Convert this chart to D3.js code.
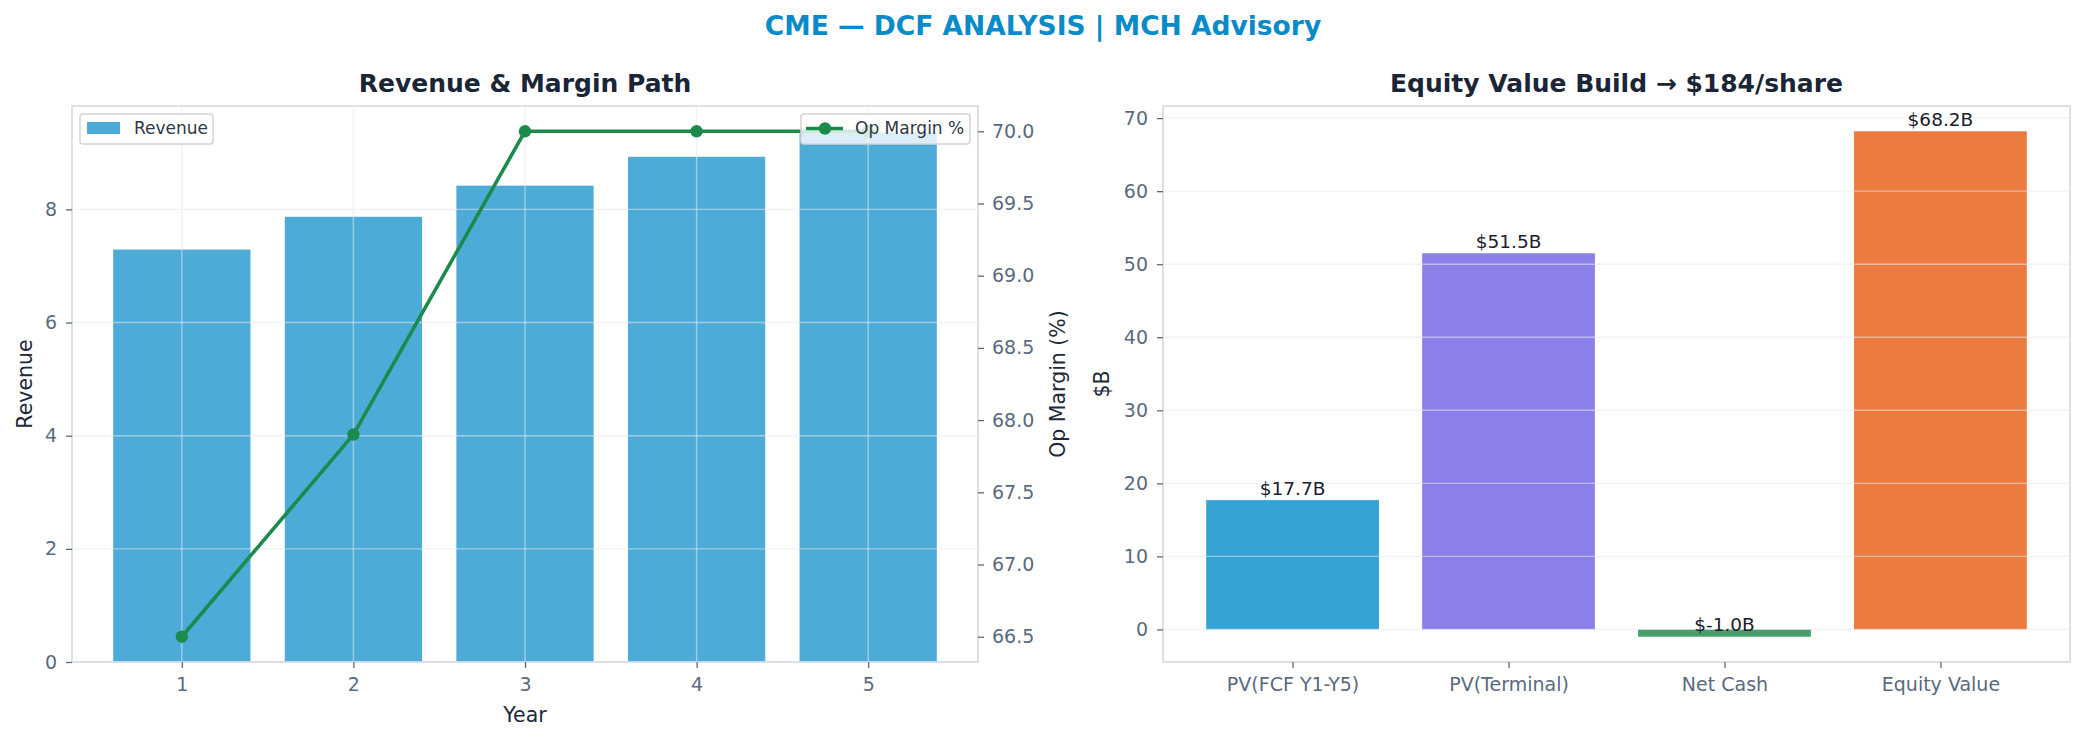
<!DOCTYPE html>
<html>
<head>
<meta charset="utf-8">
<script src="https://cdn.jsdelivr.net/npm/d3@7/dist/d3.min.js"></script>
<style>
    body { margin: 0; background: #ffffff; }
    svg { display: block; font-family: "DejaVu Sans", sans-serif; }
    .tick text { fill: #5a6a7e; font-size: 19px; font-family: "DejaVu Sans", sans-serif; }
    .tick line { stroke: #5a6a7e; }
    .spine { fill: none; stroke: #d5dbe3; stroke-width: 1.6; }
    .grid { stroke: #e6eaef; stroke-width: 1.4; opacity: 0.55; }
    .axis-label { fill: #1e2a3a; font-size: 20.5px; }
    .sub-title { fill: #1a2535; font-size: 25px; font-weight: bold; }
    .legend-box { fill: #ffffff; fill-opacity: 0.8; stroke: #d3d3d3; stroke-width: 1.5; }
    .legend-text { fill: #2d3748; font-size: 17px; }
    .bar-label { fill: #1a202c; font-size: 18.5px; }
</style>
</head>
<body>
<svg width="2084" height="742"></svg>
<script>
// Revenue & margin path
var years = [1, 2, 3, 4, 5];
var revenue = [7.29, 7.87, 8.42, 8.93, 9.36];
var opMargin = [66.5, 67.9, 70.0, 70.0, 70.0];
var revenueTicks = [0, 2, 4, 6, 8];
var marginTicks = [66.5, 67.0, 67.5, 68.0, 68.5, 69.0, 69.5, 70.0];

// Equity value build
var buildLabels = ["PV(FCF Y1-Y5)", "PV(Terminal)", "Net Cash", "Equity Value"];
var buildValues = [17.7, 51.5, -1.0, 68.2];
var buildColors = ["#35a3d3", "#8b80ea", "#489f6c", "#ec7b40"];
var buildTicks = [0, 10, 20, 30, 40, 50, 60, 70];

var svg = d3.select("svg");
var top0 = 106, bottom0 = 662;

// main title
svg.append("text")
    .attr("x", 1043).attr("y", 35)
    .attr("text-anchor", "middle")
    .style("font-size", "26.5px").style("font-weight", "bold").style("fill", "#088bc8")
    .text("CME \u2014 DCF ANALYSIS | MCH Advisory");

// helper: style an axis group
function styleAxis(g) {
    g.attr("font-family", null).attr("font-size", null);
    g.select(".domain").remove();
    g.selectAll(".tick line").attr("stroke", "#5a6a7e").attr("stroke-width", 1.3);
}

// ---------- Left chart ----------
var L = { left: 72, right: 978 };
var xL = d3.scaleLinear().domain([0.36, 5.64]).range([L.left, L.right]);
var yL = d3.scaleLinear().domain([0, 9.36 * 1.05]).range([bottom0, top0]);
var yM = d3.scaleLinear().domain([66.325, 70.175]).range([bottom0, top0]);
var barW = xL(0.8) - xL(0);

var gl = svg.append("g");

gl.selectAll(".rev-bar")
    .data(years)
    .enter().append("rect")
    .attr("x", function (d) { return xL(d) - barW / 2; })
    .attr("y", function (d, i) { return yL(revenue[i]); })
    .attr("width", barW)
    .attr("height", function (d, i) { return yL(0) - yL(revenue[i]); })
    .attr("fill", "#4dabd8");

// grid (above bars)
gl.selectAll(".gx").data(years).enter().append("line")
    .attr("class", "grid")
    .attr("x1", function (d) { return xL(d); }).attr("x2", function (d) { return xL(d); })
    .attr("y1", top0).attr("y2", bottom0);
gl.selectAll(".gy").data(revenueTicks).enter().append("line")
    .attr("class", "grid")
    .attr("x1", L.left).attr("x2", L.right)
    .attr("y1", function (d) { return yL(d); }).attr("y2", function (d) { return yL(d); });

gl.append("rect").attr("class", "spine")
    .attr("x", L.left).attr("y", top0)
    .attr("width", L.right - L.left).attr("height", bottom0 - top0);

gl.append("g").attr("transform", "translate(" + L.left + ",0)")
    .call(d3.axisLeft(yL).tickValues(revenueTicks).tickFormat(d3.format("d")).tickSize(6).tickPadding(9))
    .call(styleAxis);
gl.append("g").attr("transform", "translate(" + L.right + ",0)")
    .call(d3.axisRight(yM).tickValues(marginTicks).tickFormat(d3.format(".1f")).tickSize(6).tickPadding(8))
    .call(styleAxis);
gl.append("g").attr("transform", "translate(0," + bottom0 + ")")
    .call(d3.axisBottom(xL).tickValues(years).tickFormat(d3.format("d")).tickSize(6).tickPadding(10))
    .call(styleAxis);

// margin line
gl.append("path")
    .datum(years)
    .attr("fill", "none")
    .attr("stroke", "#1b8a4b")
    .attr("stroke-width", 3.6)
    .attr("d", d3.line()
        .x(function (d) { return xL(d); })
        .y(function (d, i) { return yM(opMargin[i]); }));
gl.selectAll(".dot").data(years).enter().append("circle")
    .attr("cx", function (d) { return xL(d); })
    .attr("cy", function (d, i) { return yM(opMargin[i]); })
    .attr("r", 6.2)
    .attr("fill", "#1b8a4b");

gl.append("text").attr("class", "sub-title")
    .attr("x", (L.left + L.right) / 2).attr("y", 92)
    .attr("text-anchor", "middle").text("Revenue & Margin Path");
gl.append("text").attr("class", "axis-label")
    .attr("x", (L.left + L.right) / 2).attr("y", 722)
    .attr("text-anchor", "middle").text("Year");
gl.append("text").attr("class", "axis-label")
    .attr("transform", "translate(32," + (top0 + bottom0) / 2 + ") rotate(-90)")
    .attr("text-anchor", "middle").text("Revenue");
gl.append("text").attr("class", "axis-label")
    .attr("transform", "translate(1065," + (top0 + bottom0) / 2 + ") rotate(-90)")
    .attr("text-anchor", "middle").text("Op Margin (%)");

// legends
gl.append("rect").attr("class", "legend-box")
    .attr("x", 80).attr("y", 114).attr("width", 133).attr("height", 30).attr("rx", 3);
gl.append("rect").attr("x", 87).attr("y", 122).attr("width", 33).attr("height", 12).attr("fill", "#4dabd8");
gl.append("text").attr("class", "legend-text").attr("x", 134).attr("y", 134).text("Revenue");

gl.append("rect").attr("class", "legend-box")
    .attr("x", 801).attr("y", 114).attr("width", 169).attr("height", 30).attr("rx", 3);
gl.append("line").attr("x1", 806).attr("x2", 843).attr("y1", 128.5).attr("y2", 128.5)
    .attr("stroke", "#1b8a4b").attr("stroke-width", 3.6);
gl.append("circle").attr("cx", 825).attr("cy", 128.5).attr("r", 6.2).attr("fill", "#1b8a4b");
gl.append("text").attr("class", "legend-text").attr("x", 855).attr("y", 134).text("Op Margin %");

// ---------- Right chart ----------
var R = { left: 1163, right: 2070 };
var xR = d3.scaleLinear().domain([-0.6, 3.6]).range([R.left, R.right]);
var span = d3.max(buildValues) - d3.min(buildValues);
var yR = d3.scaleLinear()
    .domain([d3.min(buildValues) - span * 0.05, d3.max(buildValues) + span * 0.05])
    .range([bottom0, top0]);
var bw = xR(0.8) - xR(0);

var gr = svg.append("g");

gr.selectAll(".build-bar")
    .data(buildValues)
    .enter().append("rect")
    .attr("x", function (d, i) { return xR(i) - bw / 2; })
    .attr("y", function (d) { return yR(Math.max(d, 0)); })
    .attr("width", bw)
    .attr("height", function (d) { return Math.abs(yR(d) - yR(0)); })
    .attr("fill", function (d, i) { return buildColors[i]; });

gr.selectAll(".gy").data(buildTicks).enter().append("line")
    .attr("class", "grid")
    .attr("x1", R.left).attr("x2", R.right)
    .attr("y1", function (d) { return yR(d); }).attr("y2", function (d) { return yR(d); });

gr.append("rect").attr("class", "spine")
    .attr("x", R.left).attr("y", top0)
    .attr("width", R.right - R.left).attr("height", bottom0 - top0);

gr.append("g").attr("transform", "translate(" + R.left + ",0)")
    .call(d3.axisLeft(yR).tickValues(buildTicks).tickFormat(d3.format("d")).tickSize(6).tickPadding(9))
    .call(styleAxis);
gr.append("g").attr("transform", "translate(0," + bottom0 + ")")
    .call(d3.axisBottom(xR).tickValues(d3.range(buildLabels.length))
        .tickFormat(function (i) { return buildLabels[i]; }).tickSize(6).tickPadding(10))
    .call(styleAxis);

gr.selectAll(".bar-label")
    .data(buildValues)
    .enter().append("text")
    .attr("class", "bar-label")
    .attr("x", function (d, i) { return xR(i); })
    .attr("y", function (d) { return yR(d + 0.5) - 1.6; })
    .attr("text-anchor", "middle")
    .text(function (d) { return "$" + d.toFixed(1) + "B"; });

gr.append("text").attr("class", "sub-title")
    .attr("x", (R.left + R.right) / 2).attr("y", 92)
    .attr("text-anchor", "middle").text("Equity Value Build \u2192 $184/share");
gr.append("text").attr("class", "axis-label")
    .attr("transform", "translate(1109," + (top0 + bottom0) / 2 + ") rotate(-90)")
    .attr("text-anchor", "middle").text("$B");
</script>
</body>
</html>
